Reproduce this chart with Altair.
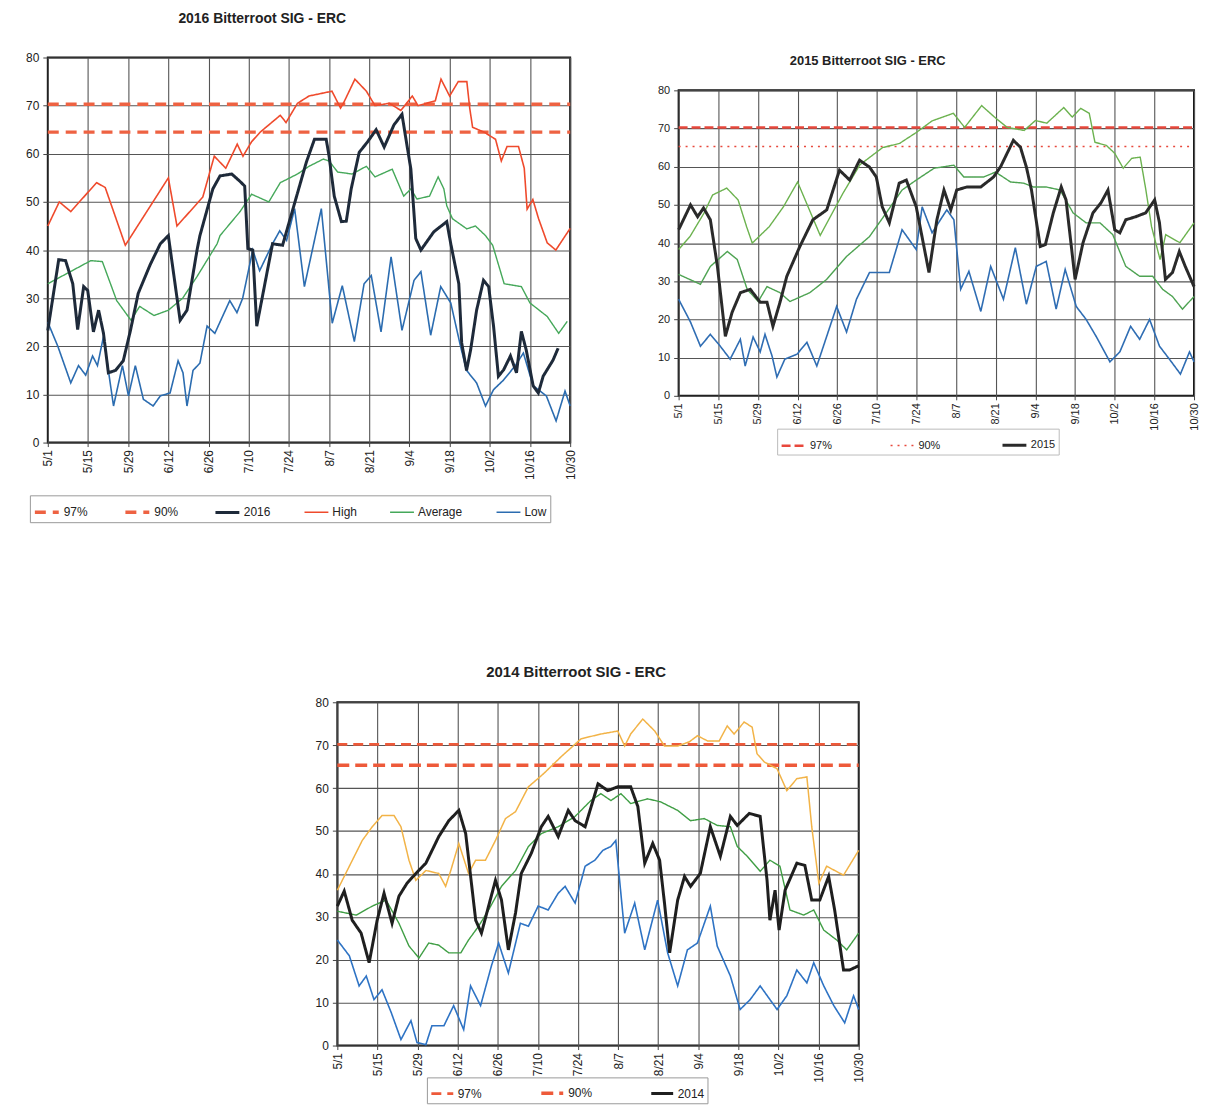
import altair as alt
import pandas as pd

TICK_DAYS = [0, 14, 28, 42, 56, 70, 84, 98, 112, 126, 140, 154, 168, 182]
TICK_LABELS = ['5/1', '5/15', '5/29', '6/12', '6/26', '7/10', '7/24', '8/7',
               '8/21', '9/4', '9/18', '10/2', '10/16', '10/30']
Y_TICKS = [0, 10, 20, 30, 40, 50, 60, 70, 80]
SPAN = [0, 182]

# ---------------- 2016 ----------------
t16_97 = [70.3, 70.3]
t16_90 = [64.5, 64.5]
hi16_d = [0, 4, 8, 17, 20, 27, 42, 45, 54, 58, 62, 66, 68, 71, 74, 81, 83, 87, 91, 99, 102, 103, 107, 111,
          114, 119, 123, 127, 129, 135, 137, 140, 143, 146, 147, 148, 152, 156, 158, 160, 164, 166, 167,
          169, 171, 174, 177, 182]
hi16_v = [45, 50, 48, 54, 53, 41, 55, 45, 51, 59.5, 57, 62, 59.5, 62.5, 64.5, 68, 66.5, 70.5, 72, 73, 69.5,
          70.5, 75.5, 73, 70, 70.5, 69, 72, 70, 71, 75.5, 72, 75, 75, 69.5, 65.5, 64.5, 63, 58.5, 61.5, 61.5,
          57, 48.5, 50.5, 46.5, 41.5, 40, 44.5]
av16_d = [0, 15, 19, 24, 29, 32, 37, 42, 47, 52, 59, 60, 67, 71, 77, 81, 87, 91, 96, 98, 101, 106, 111, 114,
          120, 124, 126.5, 128.6, 133, 136, 138, 139, 141, 146, 149, 152.5, 155, 159, 165, 168, 174, 178, 181]
av16_v = [33, 37.8, 37.6, 29.5, 25.4, 28.3, 26.4, 27.5, 30, 34.5, 41.3, 43, 48, 51.6, 50, 54, 55.8, 57.4,
          58.9, 58.5, 56.2, 55.8, 57.4, 55.2, 56.8, 51.2, 52.7, 50.6, 51.2, 55.2, 52.7, 49.2, 46.5, 44.4, 45,
          43, 41, 33, 32.4, 29, 26.2, 22.7, 25.2]
lo16_d = [0, 3.5, 8, 10.7, 13.2, 15.6, 17.3, 19.4, 21.1, 22.9, 26, 28.1, 30.5, 33.3, 36.7, 39.2, 42.6, 45.4,
          47.1, 48.5, 50.6, 53, 55.5, 58.2, 63.4, 65.9, 67.9, 71.4, 73.8, 78.3, 80.8, 83.2, 86, 89.4, 95.3,
          99.1, 102.6, 106.8, 110.2, 112.7, 116.1, 119.6, 123.4, 127.6, 130, 133.4, 136.9, 140.4, 143.8,
          145.9, 149.4, 152.5, 155.3, 158.8, 162.9, 165.7, 169.1, 173.7, 177.1, 180.2, 182]
lo16_v = [25, 20, 12.4, 16, 14, 18, 16, 22, 15, 7.6, 16, 9.7, 16, 9, 7.6, 9.7, 10.3, 17, 14.5, 7.6, 15, 16.5,
          24.2, 22.7, 29.5, 27, 30, 40, 35.7, 41.3, 44, 42, 48.6, 32.4, 48.6, 24.8, 32.6, 21, 33, 34.7, 23,
          38.6, 23.3, 33.7, 35.5, 22.3, 32.4, 29, 20, 15, 12.4, 7.6, 11, 13, 16, 18.6, 11.8, 9.7, 4.5, 10.7, 7.6]
yr16_d = [0, 3.8, 6.2, 8.7, 10.4, 12.5, 13.9, 15.9, 17.7, 19.4, 21.1, 23.6, 26.3, 28.8, 31.5, 35.7, 39.2, 42,
          46.1, 48.5, 52, 53, 57.5, 60, 64.1, 66.9, 68.6, 69.7, 71.4, 72.8, 78.3, 81.8, 90.1, 92.9, 97, 98,
          99.8, 102.3, 104, 105.7, 108.5, 111.3, 114.4, 117.2, 120.6, 123.4, 124.8, 126.5, 128.2, 130, 134.5,
          139, 140.4, 143.2, 144.2, 145.9, 147.3, 149.4, 151.8, 153.6, 155.3, 157, 158.8, 161.2, 163.3, 165,
          166.7, 169.1, 170.9, 172.6, 176, 177.8]
yr16_v = [23.3, 38, 37.8, 33, 23.5, 32.4, 31.6, 23, 27.5, 22.7, 14.5, 15, 17, 23.3, 31, 37, 41.3, 43, 25.4,
          27.5, 40, 43, 52.7, 55.4, 55.8, 54.3, 53.3, 40.3, 40, 24.2, 41.3, 41, 58.3, 63, 63, 59.5, 51.2, 45.9,
          46, 52.7, 60.3, 62.4, 65, 61.4, 66, 68.2, 63, 56.8, 42.4, 40, 43.8, 45.9, 41.3, 33, 20.7, 15, 19.2,
          27.5, 33.7, 32.4, 24.2, 13.8, 15.1, 18, 14.5, 23.1, 19.2, 11.8, 10.3, 13.8, 17.1, 19.6]

# ---------------- 2015 ----------------
t15_97 = [70.3, 70.3]
t15_90 = [65.3, 65.3]
hi15_d = [0, 4, 9, 12, 17, 21, 24, 26, 32, 37, 42, 50, 58, 64, 72, 78, 84, 89.5, 97, 101, 107, 112, 116, 122,
          126, 130, 136, 139, 142, 145, 147, 151, 154, 157, 160, 163, 165, 167, 170, 172, 177, 182]
hi15_v = [38.3, 41.7, 47.9, 52.6, 54.4, 51.3, 44.3, 40, 44.3, 49.5, 56, 42, 53, 60.5, 65, 66.1, 69, 72, 74,
          70.3, 76, 72.7, 70.3, 69.5, 72.1, 71.4, 75.5, 73, 75.3, 74, 66.4, 65.6, 63.5, 59.6, 62.2, 62.5, 53.9,
          44.3, 35.7, 42.2, 40.1, 45.3]
av15_d = [0, 7.7, 11.2, 17.2, 20.7, 24.2, 28.1, 31.2, 35.8, 39.3, 46.3, 52.3, 59.3, 67.4, 73.3, 78.9, 83.9,
          90.2, 97.2, 100.7, 107.7, 111.9, 117.2, 121.8, 125.3, 129.8, 134.7, 139.3, 143.9, 148.8, 153.3,
          157.9, 162.8, 167.4, 170.9, 174.4, 177.9, 182]
av15_v = [31.8, 29.2, 33.9, 37.8, 35.7, 27.9, 24.7, 28.6, 27, 24.7, 27, 30.5, 36.5, 41.7, 47.9, 53.9, 56.5,
          59.6, 60.4, 57.3, 57.3, 58.6, 56, 55.7, 54.7, 54.7, 53.9, 47.9, 45.3, 45.3, 42.2, 33.9, 31.3, 31.3,
          27.9, 26, 22.7, 26]
lo15_d = [0, 4.2, 7.7, 11.2, 14.7, 18.2, 21.8, 23.5, 26.3, 28.8, 30.5, 33, 34.7, 37.5, 41.8, 45.3, 48.8,
          52.3, 55.8, 59.3, 62.8, 67.4, 74.4, 78.9, 83.9, 86, 89.5, 94.7, 97.2, 99.6, 102.5, 106.7, 110.2,
          114.7, 118.9, 122.8, 126.3, 129.8, 133.3, 136.5, 140.4, 143.9, 147.4, 152.3, 155.8, 159.6, 162.8,
          166.3, 169.8, 173.3, 177.2, 180.4, 182]
lo15_v = [25.3, 19.3, 13, 16.1, 13, 9.6, 14.8, 7.8, 15.4, 11.5, 16.1, 10.4, 4.9, 9.6, 10.9, 14, 7.8, 15.6,
          23.4, 16.7, 25.3, 32.3, 32.3, 43.5, 38.3, 49.5, 42.7, 48.7, 46.1, 27.9, 32.6, 22.1, 33.9, 25.3, 38.8,
          24, 33.9, 35.2, 22.7, 33.1, 23.4, 20, 15.6, 8.9, 11.5, 18.2, 14.8, 20, 13, 9.6, 5.7, 11.5, 8.9]
yr15_d = [0, 4.2, 6.7, 8.8, 11.2, 13.7, 16.5, 18.9, 21.8, 25.3, 28.8, 31.2, 33.3, 35.8, 38.2, 42.8, 47.4,
          52.3, 56.8, 60.4, 63.9, 67.4, 69.8, 71.9, 74.4, 77.9, 80.4, 83.9, 88.4, 91.2, 93.7, 96.1, 98.2,
          101.8, 106.7, 111.2, 113.7, 118.2, 120.7, 122.8, 124.6, 127.7, 129.5, 132.3, 135.1, 136.8, 140,
          142.8, 146.3, 149.1, 151.6, 154, 155.8, 157.9, 161.4, 164.9, 168.1, 169.8, 171.9, 174.4, 176.8,
          178.9, 182]
yr15_v = [43.5, 50, 46.9, 49.2, 46.1, 33.9, 15.6, 21.9, 27, 27.9, 24.5, 24.5, 18.2, 24.5, 31.3, 39.1, 46.1,
          48.7, 59.1, 56.5, 61.7, 59.9, 57.3, 49.5, 45.3, 55.7, 56.5, 49.5, 32.3, 46.1, 53.9, 48.7, 53.9, 54.7,
          54.7, 57.3, 60, 66.9, 65.1, 59.9, 53.9, 39.1, 39.6, 47.9, 54.7, 51.3, 30.5, 40.1, 47.9, 50.5, 53.9,
          43.5, 42.7, 46.1, 46.9, 47.9, 51.3, 45.3, 30.5, 32.3, 37.8, 33.9, 28.6]

# ---------------- 2014 ----------------
t14_97 = [70.2, 70.2]
t14_90 = [65.3, 65.3]
hi14_d = [0, 4.2, 8.7, 12.2, 15.6, 19.8, 22.2, 25, 27.4, 30.9, 35.4, 37.8, 39.6, 42.4, 45.8, 48.3, 51.7,
          55.2, 58.7, 62.2, 66.7, 71.9, 78.1, 85.1, 92, 97.9, 100.3, 102.4, 106.6, 110.8, 114.2, 118.8, 122.9,
          125.7, 129.2, 133.3, 136.1, 138.5, 142, 144.8, 146.5, 149, 153.5, 156.9, 160.4, 163.9, 165.6, 168.1,
          170.8, 176.7, 182]
hi14_v = [36.2, 41.8, 47.8, 51, 53.6, 53.6, 51, 43.2, 38.5, 40.8, 40.1, 37.1, 40.8, 47.1, 40.1, 43.2, 43.2,
          47.8, 52.9, 54.5, 60.3, 63.3, 67.3, 71.5, 72.6, 73.3, 69.8, 72.6, 76.1, 73.3, 69.8, 69.8, 70.8, 72.2,
          71, 71, 74.5, 72.6, 75.4, 74.2, 68, 66.1, 64.5, 59.4, 62.2, 62.6, 51, 37.8, 41.8, 39.7, 45.5]
av14_d = [0, 6.6, 12.2, 17, 21.5, 25, 28.5, 31.9, 35.4, 38.9, 43.1, 45.8, 49.3, 52.8, 57.3, 62.2, 66.7, 71.2,
          77.1, 83, 88.5, 92, 95.5, 99, 102.4, 108.3, 112.8, 118.8, 123.3, 128.1, 132.6, 137.2, 139.6, 143.1,
          147.6, 151, 154.5, 158, 162.8, 166.3, 169.8, 174.3, 177.8, 182]
av14_v = [31.3, 30.4, 32.5, 33.9, 28.5, 23.2, 20.4, 23.9, 23.4, 21.6, 21.6, 24.6, 27.8, 31.6, 37.1, 40.8,
          46.4, 49.4, 51, 53.4, 57.1, 58.7, 57.1, 58.7, 56.4, 57.5, 56.8, 54.8, 52.4, 52.9, 51.3, 51, 46.4,
          44.1, 40.6, 43.2, 41.8, 31.6, 30.4, 31.6, 26.9, 24.6, 22.3, 26.2]
lo14_d = [0, 4.2, 7.6, 10.1, 12.8, 15.6, 18.8, 22.2, 25.7, 27.8, 30.9, 33, 37.2, 40.6, 44.1, 46.5, 50, 53.8,
          56.3, 59.7, 63.9, 66.7, 70.1, 73.6, 77.1, 79.5, 83, 86.5, 89.9, 92.7, 95.5, 97.2, 100.3, 103.8,
          107.3, 111.8, 115.3, 118.8, 122.2, 125.7, 130.2, 132.6, 137.2, 140.6, 144.1, 147.6, 153.5, 156.9,
          160.4, 163.9, 166.3, 169.8, 173.3, 177.1, 180.2, 182]
lo14_v = [24.6, 20.9, 13.9, 16.2, 10.7, 13, 7.7, 1.4, 5.8, 0.7, 0.2, 4.6, 4.6, 9.3, 3.7, 13.9, 9.3, 18.6,
          23.9, 16.9, 28.5, 27.8, 32.5, 31.6, 35.5, 37.1, 33.2, 41.8, 43.2, 45.5, 46.4, 47.8, 26.2, 33.2, 22.3,
          33.9, 21.6, 13.9, 22.3, 23.9, 32.5, 23.2, 16.2, 8.4, 10.7, 13.9, 8.4, 11.6, 17.6, 14.6, 19.3, 13.9,
          9.3, 5.3, 11.6, 8.4]
yr14_d = [0, 2.4, 5.2, 8.3, 11.1, 13.9, 16.3, 19.1, 21.5, 24.3, 27.4, 30.9, 35.4, 38.9, 42.4, 44.8, 48.3,
          50.3, 52.8, 55.2, 57.3, 59.7, 62.2, 64.2, 67.7, 71.2, 73.6, 77.1, 80.6, 83, 86.5, 91, 94.4, 97.9,
          102.4, 104.9, 107.3, 110.1, 112.5, 114.2, 116, 118.8, 121.2, 123.3, 126.7, 130.2, 133.7, 137.2,
          139.6, 143.8, 147.6, 150, 151, 152.8, 154.2, 156.3, 160.4, 163.2, 165.6, 168.4, 171.5, 173.6,
          176.7, 178.8, 182]
yr14_v = [32.5, 36, 29.2, 26.2, 19.3, 29.2, 35.5, 28.5, 34.8, 37.8, 40.1, 42.5, 48.7, 52.4, 54.8, 49.4,
          29.2, 26.2, 32.5, 38.5, 33.9, 22.3, 30.9, 40.1, 44.8, 51, 53.4, 48.7, 54.8, 52.4, 51, 61, 59.4, 60.3,
          60.3, 55.7, 42.5, 47.1, 43.2, 33.2, 21.6, 33.9, 39.4, 37.1, 40.1, 51, 44.1, 53.4, 51.3, 54.1, 53.4,
          38.5, 29.2, 36.2, 26.9, 36.2, 42.5, 42, 33.9, 33.9, 39.4, 31.6, 17.6, 17.6, 18.6]

FONT = "Liberation Sans"

alt.data_transformers.disable_max_rows()


def panel(title, tsize, tdx, toff, series, styles, legend_vals, w, h, ext, lx, ly,
          lab_size, col_pad, sym_size, leg_pad, leg_stroke):
    rows = []
    for name, days, vals in series:
        for d, v in zip(days, vals):
            rows.append({"series": name, "day": d, "value": v})
    df = pd.DataFrame(rows)
    names = [s[0] for s in styles]
    colors = [s[1] for s in styles]
    widths = [s[2] for s in styles]
    dashes = [s[3] for s in styles]
    leg = alt.Legend(title=None, orient="none", legendX=lx, legendY=ly, direction="horizontal",
                     values=legend_vals, labelFont=FONT, labelFontSize=lab_size, labelColor="#222",
                     columnPadding=col_pad, symbolSize=sym_size, labelOffset=3,
                     strokeColor=leg_stroke, padding=leg_pad, symbolType="stroke")
    label_expr = "[" + ",".join("'" + t + "'" for t in TICK_LABELS) + "][round(datum.value/14)]"
    ch = alt.Chart(df).mark_line(strokeCap="butt").encode(
        x=alt.X("day:Q", scale=alt.Scale(domain=SPAN, nice=False, zero=False),
                axis=alt.Axis(values=TICK_DAYS, labelExpr=label_expr, labelAngle=270, title=None,
                              domain=False, grid=True, gridColor="#555", gridWidth=1.1,
                              tickColor="#444", tickSize=4, labelFont=FONT, labelFontSize=lab_size,
                              labelColor="#222", labelPadding=3)),
        y=alt.Y("value:Q", scale=alt.Scale(domain=[0, 80], nice=False),
                axis=alt.Axis(values=Y_TICKS, title=None, domain=False, grid=True, gridColor="#555",
                              gridWidth=1.1, tickColor="#444", tickSize=5, labelFont=FONT,
                              labelFontSize=lab_size, labelColor="#222", labelPadding=4,
                              minExtent=ext, maxExtent=ext)),
        color=alt.Color("series:N", scale=alt.Scale(domain=names, range=colors), legend=leg, sort=names),
        strokeDash=alt.StrokeDash("series:N", scale=alt.Scale(type="ordinal", domain=names, range=dashes),
                                  legend=leg, sort=names),
        strokeWidth=alt.StrokeWidth("series:N", scale=alt.Scale(type="ordinal", domain=names, range=widths),
                                    legend=leg, sort=names),
        detail="series:N",
    ).properties(
        width=w, height=h,
        title=alt.TitleParams(title, font=FONT, fontSize=tsize, fontWeight="bold", color="#222",
                              anchor="middle", offset=toff, dx=tdx),
        view=alt.ViewBackground(stroke="#111", strokeWidth=2),
    )
    return ch


SOLID = [1, 0]

c16 = panel(
    "2016 Bitterroot SIG - ERC", 14, -47, 26,
    [("97%", SPAN, t16_97), ("90%", SPAN, t16_90), ("High", hi16_d, hi16_v),
     ("Average", av16_d, av16_v), ("Low", lo16_d, lo16_v), ("2016", yr16_d, yr16_v)],
    [("97%", "#ee6242", 3.5, [11, 7]), ("90%", "#ee6242", 3.5, [11, 7]), ("2016", "#1e2a3a", 3, SOLID),
     ("High", "#ef4a2c", 1.6, SOLID), ("Average", "#45a85a", 1.4, SOLID), ("Low", "#2b6cb0", 1.6, SOLID)],
    ["97%", "90%", "2016", "High", "Average", "Low"],
    525, 387, 39, -18, 440, 12, 30, 576, 3, "#999")

c15 = panel(
    "2015 Bitterroot SIG - ERC", 13, -69, 16,
    [("97%", SPAN, t15_97), ("90%", SPAN, t15_90), ("High", hi15_d, hi15_v),
     ("Average", av15_d, av15_v), ("Low", lo15_d, lo15_v), ("2015", yr15_d, yr15_v)],
    [("97%", "#e8483c", 2.5, [9, 4]), ("90%", "#e8483c", 1.5, [2, 5]), ("2015", "#2a2a2a", 3, SOLID),
     ("High", "#6cb24f", 1.4, SOLID), ("Average", "#4ea352", 1.4, SOLID), ("Low", "#2f6db3", 1.6, SOLID)],
    ["97%", "90%", "2015"],
    518, 307, 22, 99, 340, 11, 55, 576, 3, "#bbb")

c14 = panel(
    "2014 Bitterroot SIG - ERC", 15, -22, 16,
    [("97%", SPAN, t14_97), ("90%", SPAN, t14_90), ("High", hi14_d, hi14_v),
     ("Average", av14_d, av14_v), ("Low", lo14_d, lo14_v), ("2014", yr14_d, yr14_v)],
    [("97%", "#ee5a3a", 2.8, [10, 6]), ("90%", "#ee5a3a", 3.5, [12, 6]), ("2014", "#1f1f1f", 3, SOLID),
     ("High", "#f2b347", 1.5, SOLID), ("Average", "#3f9e44", 1.4, SOLID), ("Low", "#2e73c4", 1.6, SOLID)],
    ["97%", "90%", "2014"],
    524, 345, 20, 90, 377, 12, 52, 484, 3, "#999")


def spacer(w, h):
    return alt.Chart(pd.DataFrame({"a": [0]})).mark_point(opacity=0).encode(
        x=alt.value(1), y=alt.value(1)
    ).properties(width=w, height=h, view=alt.ViewBackground(stroke=None))


def indep(c):
    return c.resolve_scale(color="independent", strokeDash="independent",
                           strokeWidth="independent").resolve_legend(
        color="independent", strokeDash="independent", strokeWidth="independent")


right_col = indep(alt.vconcat(spacer(10, 1), c15, spacing=-7))
top_row = indep(alt.hconcat(c16, right_col, spacing=78))
bottom_row = indep(alt.hconcat(spacer(257, 10), c14, spacing=10))

chart = indep(alt.vconcat(top_row, bottom_row, spacing=141)).properties(
    padding={"left": 0, "top": 0, "right": 0, "bottom": 0}
).configure(background="white").configure_view(stroke=None)

chart.save("out.html", embed_options={"renderer": "svg", "actions": False})
